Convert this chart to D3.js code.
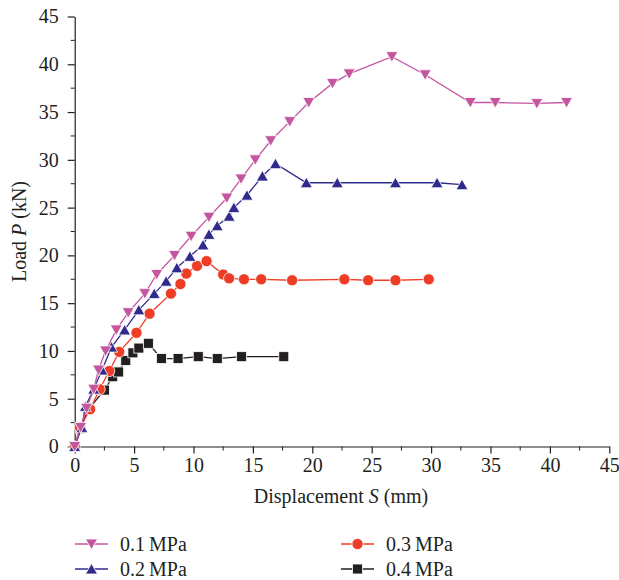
<!DOCTYPE html>
<html>
<head>
<meta charset="utf-8">
<script src="https://cdn.jsdelivr.net/npm/d3@7"></script>
<style>
  body { margin: 0; background: #fff; }
  svg text { font-family: "Liberation Serif", "DejaVu Serif", serif; fill: #231f20; }
</style>
</head>
<body>
<div id="chart"></div>
<script>
// load-displacement curves, values
const series01 = [[0,0],[0.5,2],[1.0,4],[1.6,6],[2.0,8],[2.6,10],[3.5,12.2],[4.5,14],[5.9,16],[6.9,18],
  [8.4,20],[9.8,22],[11.3,24],[12.8,26],[14.0,28],[15.2,30],[16.5,32],[18.1,34],[19.7,36],[21.7,38],
  [23.1,39],[26.7,40.8],[29.5,38.9],[33.3,36],[35.4,36],[38.9,35.9],[41.4,36]];
const series02 = [[0,0],[0.6,2],[0.9,4.2],[1.6,6],[2.3,8],[3.1,10.4],[4.2,12.2],[5.4,14.3],[6.7,16],
  [7.7,17.3],[8.6,18.7],[9.7,19.9],[10.8,21.1],[11.3,22.2],[12.0,23.1],[13.0,24.1],[13.4,25],[14.5,26.3],
  [15.8,28.3],[16.9,29.6],[19.5,27.6],[22.1,27.6],[27.0,27.6],[30.5,27.6],[32.6,27.4]];
const series03 = [[0,0],[0.45,2],[1.3,3.9],[2.1,6],[2.9,7.9],[3.75,9.9],[5.2,11.9],[6.3,13.9],[8.1,16],
  [8.9,17],[9.4,18.1],[10.3,18.9],[11.1,19.4],[12.5,18],[13.0,17.6],[14.25,17.5],[15.7,17.5],[18.3,17.4],
  [22.7,17.5],[24.7,17.4],[27.0,17.4],[29.8,17.5]];
const series04 = [[0,0],[0.5,1.9],[1.15,3.9],[2.5,5.9],[3.2,7.3],[3.7,7.8],[4.3,9.0],[4.9,9.8],[5.4,10.3],
  [6.2,10.8],[7.3,9.2],[8.7,9.2],[10.4,9.4],[12.0,9.2],[14.05,9.4],[17.6,9.4]];

const seriesNames = ['0.1\u2009MPa', '0.2\u2009MPa', '0.3\u2009MPa', '0.4\u2009MPa'];
const xTicks = [0, 5, 10, 15, 20, 25, 30, 35, 40, 45];
const yTicks = [0, 5, 10, 15, 20, 25, 30, 35, 40, 45];

const width = 619, height = 580;
const margin = { top: 16.5, left: 74.7, right: 10, bottom: 133.5 };
const fontSize = 20;

const svg = d3.select('#chart').append('svg')
  .attr('width', width)
  .attr('height', height);

const x = d3.scaleLinear().domain([0, 45]).range([margin.left, 609.3]);
const y = d3.scaleLinear().domain([0, 45]).range([446.5, margin.top]);

const styles = [
  { color: '#c4569f', symbol: 'down' },
  { color: '#2f2a8c', symbol: 'up' },
  { color: '#ee3d26', symbol: 'circle' },
  { color: '#231f20', symbol: 'square' }
];

// axes: major ticks with labels, minor ticks between
const minor = d3.range(2.5, 45, 5);

const xAxis = svg.append('g').attr('transform', `translate(0,${y(0)})`);
xAxis.call(d3.axisBottom(x).tickValues(xTicks).tickSize(7).tickPadding(4).tickSizeOuter(0));
xAxis.append('g').selectAll('line').data(minor).join('line')
  .attr('x1', d => x(d)).attr('x2', d => x(d)).attr('y1', 0).attr('y2', 4)
  .attr('stroke', '#231f20');

const yAxis = svg.append('g').attr('transform', `translate(${x(0)},0)`);
yAxis.call(d3.axisLeft(y).tickValues(yTicks).tickSize(7).tickPadding(9).tickSizeOuter(0));
yAxis.append('g').selectAll('line').data(minor).join('line')
  .attr('y1', d => y(d)).attr('y2', d => y(d)).attr('x1', 0).attr('x2', -4)
  .attr('stroke', '#231f20');

svg.selectAll('.domain, .tick line').attr('stroke', '#231f20').attr('stroke-width', 1.2);
svg.selectAll('.tick text')
  .attr('font-family', '"Liberation Serif", serif')
  .attr('font-size', fontSize)
  .attr('fill', '#231f20');

// axis titles
const xTitle = svg.append('text')
  .attr('x', 341).attr('y', 503)
  .attr('text-anchor', 'middle')
  .attr('font-size', fontSize);
xTitle.append('tspan').text('Displacement ');
xTitle.append('tspan').attr('font-style', 'italic').text('S');
xTitle.append('tspan').text(' (mm)');

const yTitle = svg.append('text')
  .attr('transform', `translate(26,${y(22.5)}) rotate(-90)`)
  .attr('text-anchor', 'middle')
  .attr('font-size', fontSize);
yTitle.append('tspan').text('Load ');
yTitle.append('tspan').attr('font-style', 'italic').text('P');
yTitle.append('tspan').text(' (kN)');

function drawMarker(g, symbol, color, cx, cy) {
  if (symbol === 'circle') {
    g.append('circle').attr('cx', cx).attr('cy', cy).attr('r', 5.6)
      .attr('fill', color).attr('stroke', '#fff').attr('stroke-width', 0.8);
  } else if (symbol === 'square') {
    g.append('rect').attr('x', cx - 5).attr('y', cy - 5).attr('width', 10).attr('height', 10)
      .attr('fill', color).attr('stroke', '#fff').attr('stroke-width', 0.8);
  } else {
    const s = symbol === 'down' ? 1 : -1;
    const pts = [[cx - 6, cy - 5 * s], [cx + 6, cy - 5 * s], [cx, cy + 5.5 * s]];
    g.append('polygon').attr('points', pts.map(p => p.join(',')).join(' '))
      .attr('fill', color).attr('stroke', '#fff').attr('stroke-width', 0.8);
  }
}

const line = d3.line().x(d => x(d[0])).y(d => y(d[1]));
const allSeries = [series01, series02, series03, series04];

// draw from back to front so 0.1 MPa stays on top like the figure
[3, 2, 1, 0].forEach(i => {
  const g = svg.append('g');
  g.append('path').datum(allSeries[i])
    .attr('d', line)
    .attr('fill', 'none')
    .attr('stroke', styles[i].color)
    .attr('stroke-width', 1.3);
  allSeries[i].forEach(d => drawMarker(g, styles[i].symbol, styles[i].color, x(d[0]), y(d[1])));
});

// legend, two columns
const legendPos = [[75, 544], [75, 569], [341, 544], [341, 569]];
seriesNames.forEach((name, i) => {
  const [lx, ly] = legendPos[i];
  const g = svg.append('g');
  g.append('line').attr('x1', lx).attr('x2', lx + 33).attr('y1', ly).attr('y2', ly)
    .attr('stroke', styles[i].color).attr('stroke-width', 1.3);
  drawMarker(g, styles[i].symbol, styles[i].color, lx + 16.5, ly);
  g.append('text').attr('x', lx + 45).attr('y', ly + 7)
    .attr('font-size', fontSize).text(name);
});
</script>
</body>
</html>
